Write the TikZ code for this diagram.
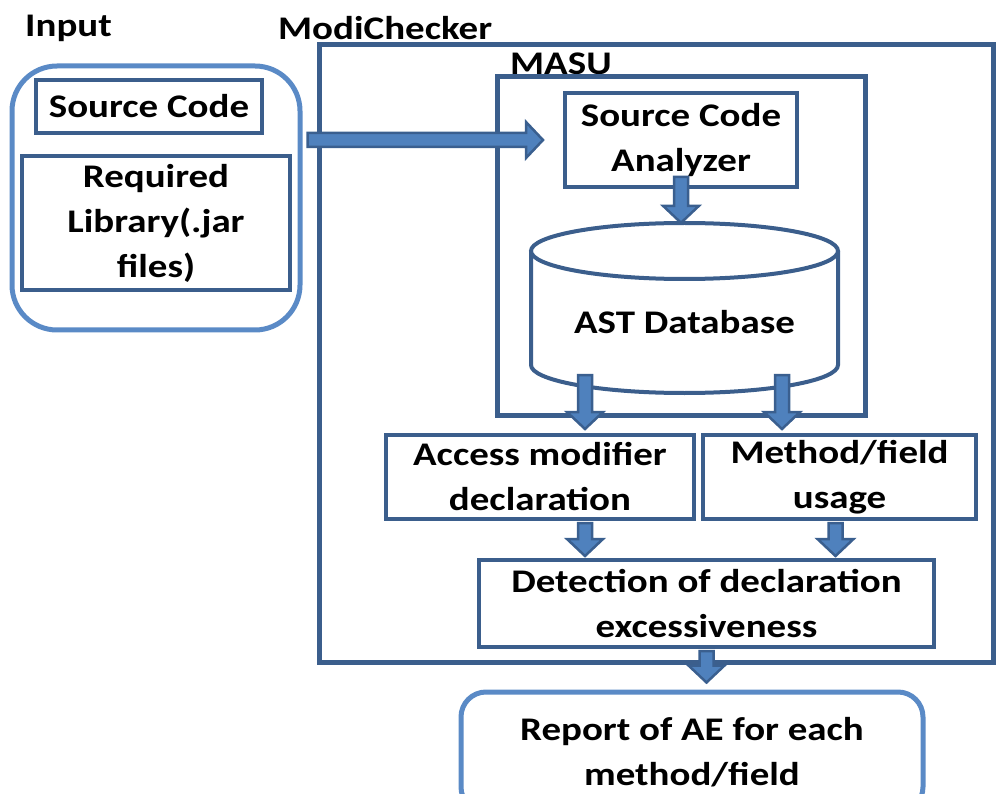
\documentclass[tikz,border=0pt]{standalone}
\usepackage{fontspec}
\setmainfont{Carlito}[FakeStretch=1.18]
\usetikzlibrary{calc}
\definecolor{dk}{HTML}{3B5E8C}
\definecolor{lt}{HTML}{5A8AC6}
\definecolor{af}{HTML}{4F81BD}
\definecolor{ao}{HTML}{3A5F8F}
\def\blkS{7pt}
\def\blkH{18pt}
\def\blkL{17pt}
\newcommand\downblock[2]{\path[blk] let \p1=#1, \p2=#2 in
  (\x1-\blkS,\y1) -- (\x1+\blkS,\y1) -- (\x1+\blkS,\y2+\blkL) -- (\x1+\blkH,\y2+\blkL)
  -- (\x1,\y2) -- (\x1-\blkH,\y2+\blkL) -- (\x1-\blkS,\y2+\blkL) -- cycle;}
\newcommand\rightblock[2]{\path[blk] let \p1=#1, \p2=#2 in
  (\x1,\y1+\blkS) -- (\x1,\y1-\blkS) -- (\x2-\blkL,\y1-\blkS) -- (\x2-\blkL,\y1-\blkH)
  -- (\x2,\y1) -- (\x2-\blkL,\y1+\blkH) -- (\x2-\blkL,\y1+\blkS) -- cycle;}
\begin{document}
\begin{tikzpicture}[x=1pt,y=-1pt,
  every node/.style={font=\fontsize{33}{45}\selectfont\bfseries, align=center, inner sep=0pt},
  dbox/.style={draw=dk, line width=4pt, fill=white},
  bigbox/.style={draw=dk, line width=5pt},
  rbox/.style={draw=lt, line width=5pt, rounded corners=#1},
  lbl/.style={anchor=west},
  blk/.style={fill=af, draw=ao, line width=2.5pt, line join=miter}]
\useasboundingbox (0,0) rectangle (996,794);
% labels
\node[lbl] (linput) at (25,28) {Input};
\node[lbl] (lmodi) at (278,28) {ModiChecker};
\node[lbl] (lmasu) at (510,64) {MASU};
% containers
\node[bigbox, minimum width=674pt, minimum height=617pt] (modi) at (656,353.5) {};
\node[bigbox, minimum width=368pt, minimum height=338pt] (masu) at (681,246) {};
\node[rbox=45pt, minimum width=288pt, minimum height=264pt] (input) at (156,198) {};
% input contents
\node[dbox, minimum width=226pt, minimum height=53pt] (src) at (149,106.5) {Source Code};
\node[dbox, minimum width=268pt, minimum height=134pt] (lib) at (156,223) {Required\\Library(.jar\\files)};
% analyzer
\node[dbox, minimum width=232pt, minimum height=94pt] (sca) at (681,140) {Source Code\\Analyzer};
% database cylinder
\node[minimum width=307pt, minimum height=170pt] (db) at (684.5,308) {};
\draw[dk, line width=4pt, fill=white] (531,251) -- (531,365)
  .. controls (531,380.5) and (599.7,393) .. (684.5,393)
  .. controls (769.3,393) and (838,380.5) .. (838,365) -- (838,251);
\draw[dk, line width=4pt, fill=white] (684.5,251) ellipse (153.5pt and 28pt);
\node (dbt) at (684.5,322) {AST Database};
% analysis boxes
\node[dbox, minimum width=308pt, minimum height=84pt] (amd) at (540,477) {Access modifier\\declaration};
\node[dbox, minimum width=273pt, minimum height=84pt] (mfu) at (839.5,477) {Method/field\\usage};
\node[dbox, minimum width=455pt, minimum height=87pt] (det) at (706.5,603.5) {Detection of declaration\\excessiveness};
\node[rbox=25pt, fill=white, minimum width=462pt, minimum height=120pt] (rep) at (692,752) {Report of AE for each\\method/field};
% arrows
\coordinate (d1) at (585,375);
\coordinate (d2) at (782,375);
\rightblock{($(input.east |- sca.west)+(5,0)$)}{($(sca.west)+(-20,0)$)}
\downblock{($(sca.south)+(0,-12)$)}{(sca.south |- db.north)}
\downblock{(d1)}{($(d1 |- amd.north)+(0,-4)$)}
\downblock{(d2)}{($(d2 |- mfu.north)+(0,-4)$)}
\downblock{($(d1 |- amd.south)+(0,2)$)}{($(d1 |- det.north)+(0,-2)$)}
\downblock{($(mfu.south)+(-4,2)$)}{($(mfu.south |- det.north)+(-4,-2)$)}
\downblock{($(det.south)+(0,2)$)}{($(det.south |- rep.north)+(0,-7)$)}
\end{tikzpicture}
\end{document}
